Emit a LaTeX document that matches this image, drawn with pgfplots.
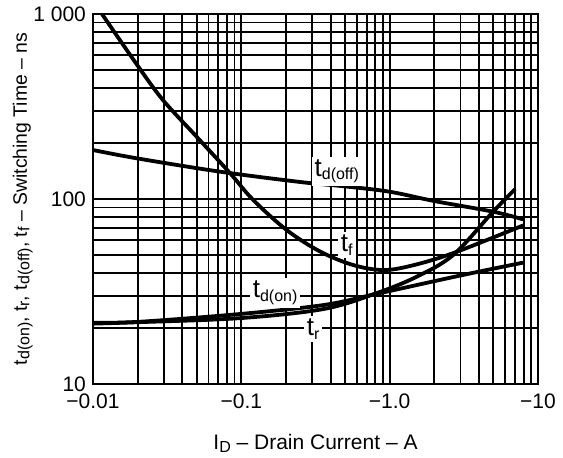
\documentclass[border=0pt]{standalone}
\usepackage{fontspec}
\setmainfont{Liberation Sans}
\usepackage{pgfplots}
\pgfplotsset{compat=1.18}

\newcommand{\sub}[1]{\raisebox{-0.25ex}{\footnotesize #1}}

\begin{document}
\begin{tikzpicture}
\begin{axis}[
  xmode=log, ymode=log,
  scale only axis, width=222.5pt, height=185pt,
  xmin=0.01, xmax=10, ymin=10, ymax=1000,
  xtick={0.01,0.1,1,10}, xticklabels={−0.01,−0.1,−1.0,−10},
  ytick={10,100,1000}, yticklabels={10,100,1 000},
  grid=both,
  major grid style={black, line width=0.9pt},
  minor grid style={black, line width=0.9pt},
  major tick length=0pt, minor tick length=0pt,
  axis line style={line width=1.1pt},
  tick label style={font=\fontsize{10.5}{12}\selectfont},
  xticklabel style={yshift=-1.5pt},
  /pgf/number format/assume math mode=true,
  xlabel={I\sub{D} – Drain Current – A},
  ylabel={t\sub{d(on)}, t\sub{r}, t\sub{d(off)}, t\sub{f} – Switching Time – ns},
  xlabel style={font=\fontsize{10.5}{12}\selectfont, yshift=-6pt},
  ylabel style={font=\fontsize{9.7}{12}\selectfont, yshift=-6.5pt},
]
\tikzset{crv/.style={black, line width=1.9pt, smooth, tension=0.55, no markers}}
% t_f
\addplot[crv] coordinates {(0.0115,1000) (0.0197,535) (0.0296,343) (0.050,217) (0.0839,138) (0.12,99) (0.202,68) (0.34,52) (0.566,44) (0.9,41.3) (1.4,43.6) (2.68,51) (7.95,72)};
% t_d(off)
\addplot[crv] coordinates {(0.01,184) (0.0197,166) (0.0719,140.5) (0.249,123.6) (0.5,117) (1.0,109.5) (2.0,97.5) (4.98,85.4) (7.95,77.6)};
% t_d(on)
\addplot[crv] coordinates {(0.01,21.4) (0.0207,21.7) (0.098,23.9) (0.356,26.7) (0.8,30.6) (3.0,38.6) (7.95,45.3)};
% t_r
\addplot[crv] coordinates {(0.01,21.2) (0.0207,21.6) (0.098,22.7) (0.356,25.4) (0.8,30.8) (1.5,37.8) (2.68,49.8) (4.98,85.4) (7.01,113)};

\tikzset{lbl/.style={fill=white, inner sep=1.5pt, font=\fontsize{13}{14}\selectfont}}
\node[lbl] at (axis cs:0.44,141) {t\sub{d(off)}};
\node[lbl] at (axis cs:0.514,56.3) {t\sub{f}};
\node[lbl] at (axis cs:0.169,31.1) {t\sub{d(on)}};
\node[lbl] at (axis cs:0.305,19.8) {t\sub{r}};
\end{axis}
\pgfresetboundingbox
\path ([shift={(-46.5pt,-36.5pt)}]current axis.south west) rectangle ([shift={(235pt,192pt)}]current axis.south west);
\end{tikzpicture}
\end{document}
